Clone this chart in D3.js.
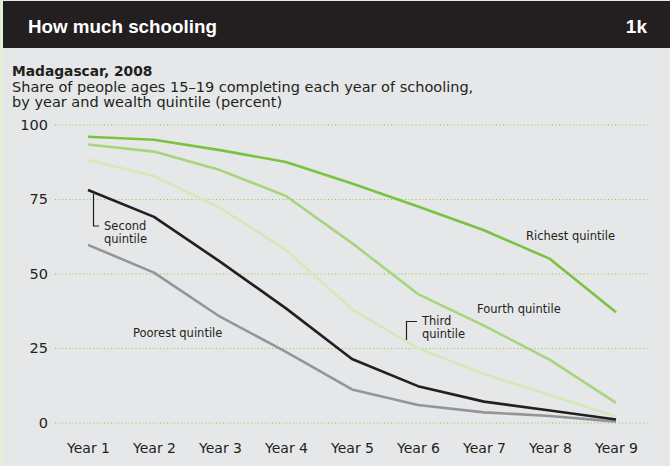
<!DOCTYPE html>
<html>
<head>
<meta charset="utf-8">
<script src="https://cdn.jsdelivr.net/npm/d3@7"></script>
<style>
  body { margin: 0; background: #e4f0d6; }
  svg { display: block; font-family: "DejaVu Sans", sans-serif; }
</style>
</head>
<body>
<div id="chart"></div>
<script>
var width = 670;
var height = 466;

var years = ["Year 1", "Year 2", "Year 3", "Year 4", "Year 5", "Year 6", "Year 7", "Year 8", "Year 9"];
var yTicks = [0, 25, 50, 75, 100];

var richest = [95.9, 94.9, 91.4, 87.4, 80.2, 72.5, 64.5, 54.9, 37.0];
var fourth = [93.3, 90.9, 84.7, 76.0, 60.2, 43.1, 32.5, 21.0, 6.6];
var third = [88.1, 82.7, 72.0, 57.9, 38.0, 24.9, 16.3, 9.2, 2.0];
var second = [78.0, 69.0, 54.0, 38.3, 21.3, 12.2, 7.0, 4.0, 1.0];
var poorest = [59.6, 50.3, 35.5, 23.7, 11.1, 5.9, 3.4, 2.2, 0.3];

var series = [
  { name: "Poorest", values: poorest, color: "#939598" },
  { name: "Third", values: third, color: "#d5e9b8" },
  { name: "Fourth", values: fourth, color: "#a8d57c" },
  { name: "Richest", values: richest, color: "#7cc242" },
  { name: "Second", values: second, color: "#231f20" }
];

var svg = d3
  .select("#chart")
  .append("svg")
  .attr("width", width)
  .attr("height", height);

// panel background and header bar
svg.append("rect")
  .attr("x", 3).attr("y", 1)
  .attr("width", width - 3).attr("height", height - 1)
  .attr("fill", "#e6e7e8");

svg.append("rect")
  .attr("x", 3).attr("y", 1)
  .attr("width", width - 3).attr("height", 47)
  .attr("fill", "#231f20");

svg.append("text")
  .attr("x", 28).attr("y", 33)
  .attr("fill", "#fff")
  .style("font-family", "'Liberation Sans', Arial, sans-serif")
  .style("font-size", "18.8px")
  .style("font-weight", "bold")
  .text("How much schooling");

svg.append("text")
  .attr("x", 647).attr("y", 33)
  .attr("text-anchor", "end")
  .attr("fill", "#fff")
  .style("font-family", "'Liberation Sans', Arial, sans-serif")
  .style("font-size", "19px")
  .style("font-weight", "bold")
  .text("1k");

svg.append("text")
  .attr("x", 12).attr("y", 76)
  .attr("fill", "#231f20")
  .style("font-size", "13.8px")
  .style("font-weight", "bold")
  .text("Madagascar, 2008");

svg.append("text")
  .attr("x", 12).attr("y", 91.5)
  .attr("fill", "#231f20")
  .style("font-size", "14.5px")
  .text("Share of people ages 15\u201319 completing each year of schooling,");

svg.append("text")
  .attr("x", 12).attr("y", 106.5)
  .attr("fill", "#231f20")
  .style("font-size", "14.5px")
  .text("by year and wealth quintile (percent)");

var x = d3.scalePoint().domain(years).range([88, 616]);
var y = d3.scaleLinear().domain([0, 100]).range([422.5, 124.5]);

// dotted gridlines
var yAxis = d3.axisLeft(y)
  .tickValues(yTicks)
  .tickSize(0)
  .tickPadding(7);

var gy = svg.append("g")
  .attr("transform", "translate(55,0)")
  .call(yAxis);
gy.select(".domain").remove();
gy.selectAll(".tick line")
  .attr("x2", 649 - 55)
  .attr("stroke", "#8dc63f")
  .attr("stroke-width", 1.2)
  .attr("stroke-dasharray", "1,2.5");
gy.selectAll(".tick text")
  .attr("fill", "#231f20")
  .style("font-size", "14.5px")
  .style("font-family", "'DejaVu Sans', sans-serif");

var xAxis = d3.axisBottom(x).tickSize(0).tickPadding(0);
var gx = svg.append("g")
  .attr("transform", "translate(0,443)")
  .call(xAxis);
gx.select(".domain").remove();
gx.selectAll(".tick text")
  .attr("fill", "#231f20")
  .style("font-size", "14px")
  .style("font-family", "'DejaVu Sans', sans-serif");

var line = d3.line()
  .x(function(d, i) { return x(years[i]); })
  .y(function(d) { return y(d); });

svg.selectAll(".series")
  .data(series)
  .enter()
  .append("path")
  .attr("class", "series")
  .attr("d", function(d) { return line(d.values); })
  .attr("fill", "none")
  .attr("stroke", function(d) { return d.color; })
  .attr("stroke-width", 2.6)
  .attr("stroke-linejoin", "round");

// labels
function label(xp, yp, lines) {
  var t = svg.append("text")
    .attr("x", xp).attr("y", yp)
    .attr("fill", "#231f20")
    .style("font-size", "11.5px");
  lines.forEach(function(s, i) {
    t.append("tspan").attr("x", xp).attr("dy", i ? 13 : 0).text(s);
  });
}

label(104, 230, ["Second", "quintile"]);
label(133, 337, ["Poorest quintile"]);
label(422, 325, ["Third", "quintile"]);
label(477, 313, ["Fourth quintile"]);
label(526, 240, ["Richest quintile"]);

svg.append("path")
  .attr("d", "M93.5," + (y(second[0]) + 4) + "V226H99")
  .attr("fill", "none")
  .attr("stroke", "#231f20")
  .attr("stroke-width", 1.2);

svg.append("path")
  .attr("d", "M417,321.5H406.5V" + (y(25) - 8))
  .attr("fill", "none")
  .attr("stroke", "#231f20")
  .attr("stroke-width", 1.2);
</script>
</body>
</html>
